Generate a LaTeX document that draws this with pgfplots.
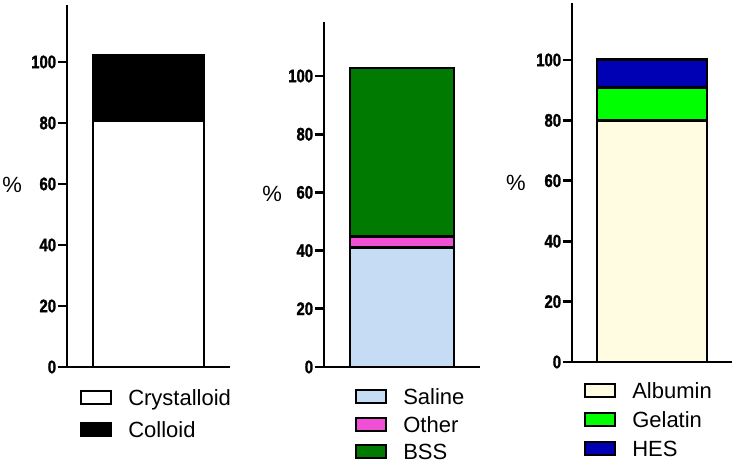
\documentclass[border=0pt]{standalone}
\usepackage{fontspec}
\setmainfont{Liberation Sans}
\newfontfamily\tickfont[FakeStretch=0.82, BoldFeatures={FakeBold=1.5}]{Liberation Sans}
\usepackage{pgfplots}
\pgfplotsset{compat=1.18}
\definecolor{saline}{HTML}{C6DCF5}
\definecolor{other}{HTML}{F050D6}
\definecolor{bss}{HTML}{007A00}
\definecolor{albumin}{HTML}{FFFCE1}
\definecolor{gelatin}{HTML}{00FF00}
\definecolor{hes}{HTML}{0000B4}
\pgfplotsset{
  panel/.style={
    axis x line=bottom, axis y line=left,
    axis line style={-, line width=2pt},
    xtick=\empty, ytick={0,20,...,100},
    ymin=0, clip=false,
    tick align=outside, major tick length=7pt,
    every tick/.style={line width=2pt, black},
    yticklabel style={font=\tickfont\bfseries\fontsize{13.6}{15}\selectfont, inner sep=1pt},
    /pgf/number format/assume math mode=true,
    ybar stacked,
    every axis plot/.append style={draw=black, line width=2pt},
    every axis plot post/.append style={
      legend image code/.code={\draw[##1, line width=1.5pt] (0pt,-3.5pt) rectangle (22.5pt,6.3pt);}},
    legend style={draw=none, fill=none, inner sep=0pt, anchor=north west,
      font=\fontsize{16.5}{19}\selectfont,
      nodes={inner sep=0pt, text height=12pt, text depth=3pt},
      /tikz/every odd column/.append style={column sep=12pt}},
    legend cell align=left,
    ylabel={\%},
    every axis y label/.style={anchor=center, font=\fontsize{16.5}{19}\selectfont},
  }
}
\begin{document}
\begin{tikzpicture}
\useasboundingbox (0,0) rectangle (552pt,355.5pt);
% Panel 1
\begin{axis}[panel, at={(50.25pt,80.25pt)}, anchor=south west,
  x=0.75pt, y=2.2875pt, xmin=-81.5, xmax=81.5, ymax=118.7, bar width=111,
  every axis y label/.append style={at={(axis description cs:-0.337,0.503)}},
  legend style={at={(axis description cs:0.0798,-0.0608)}, row sep=9pt}]
\addplot[fill=white] coordinates {(0,80.6)};
\addplot[fill=black] coordinates {(0,21.7)};
\legend{Crystalloid, Colloid}
\end{axis}
% Panel 2
\begin{axis}[panel, at={(243pt,80.25pt)}, anchor=south west,
  x=0.75pt, y=2.1825pt, xmin=-78, xmax=78, ymax=118.6, bar width=104,
  every axis y label/.append style={at={(axis description cs:-0.333,0.5)}},
  legend style={at={(axis description cs:0.199,-0.062)}, row sep=5.6pt}]
\addplot[fill=saline] coordinates {(0,41)};
\addplot[fill=other] coordinates {(0,3.8)};
\addplot[fill=bss] coordinates {(0,58)};
\legend{Saline, Other, BSS}
\end{axis}
% Panel 3
\begin{axis}[panel, at={(429pt,84pt)}, anchor=south west,
  x=0.75pt, y=2.265pt, xmin=-80, xmax=80, ymax=119, bar width=110,
  every axis y label/.append style={at={(axis description cs:-0.35,0.4995)}},
  legend style={at={(axis description cs:0.075,-0.0568)}, row sep=6.75pt}]
\addplot[fill=albumin] coordinates {(0,80)};
\addplot[fill=gelatin] coordinates {(0,10.8)};
\addplot[fill=hes] coordinates {(0,9.3)};
\legend{Albumin, Gelatin, HES}
\end{axis}
\end{tikzpicture}
\end{document}
